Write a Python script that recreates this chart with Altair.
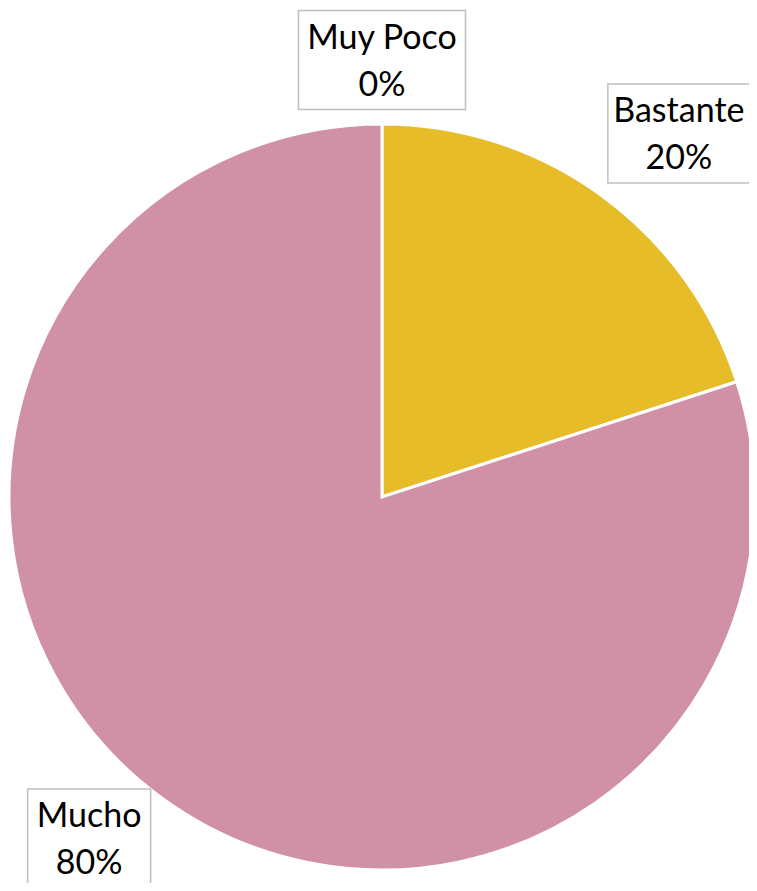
import math
import altair as alt
import pandas as pd

# data
categories = ["Muy Poco", "Bastante", "Mucho"]
values = [0, 20, 80]
colors = ["#A5A5A5", "#E6BC29", "#D091A6"]

# layout (pixels in view coords; page margin 8px)
W, H = 741, 875
CX, CY = 374, 489
R = 373
LABEL_R = 437
label_nudge = [(0, 0), (40, -10), (-36, -12)]
box_size = [(167, 99), (142, 99), (123, 99)]
LINE_H = 47

pie_df = pd.DataFrame({"cat": categories, "val": values, "order": range(len(categories))})

total = sum(values)
rows = []
cum = 0
for i, (c, v) in enumerate(zip(categories, values)):
    mid = (cum + v / 2) / total * 2 * math.pi
    cum += v
    x = CX + LABEL_R * math.sin(mid) + label_nudge[i][0]
    y = CY - LABEL_R * math.cos(mid) + label_nudge[i][1]
    w, h = box_size[i]
    rows.append({
        "cat": c,
        "label": f"{c}\n{round(v / total * 100)}%",
        "x": x, "y": y + 2 - LINE_H / 2,
        "x1": x - w / 2, "x2": x + w / 2,
        "y1": y - h / 2, "y2": y + h / 2,
    })
lab_df = pd.DataFrame(rows)

pie = alt.Chart(pie_df).mark_arc(radius=R, stroke="white", strokeWidth=3).encode(
    theta=alt.Theta("val:Q", stack=True),
    color=alt.Color("cat:N", scale=alt.Scale(domain=categories, range=colors), legend=None),
    order=alt.Order("order:Q"),
    x=alt.value(CX),
    y=alt.value(CY),
)

boxes = alt.Chart(lab_df).mark_rect(fill="white", stroke="#BFBFBF", strokeWidth=1.5).encode(
    x=alt.X("x1:Q", scale=None, axis=None),
    x2="x2:Q",
    y=alt.Y("y1:Q", scale=None, axis=None),
    y2="y2:Q",
)

texts = alt.Chart(lab_df).mark_text(
    font="Lato", fontSize=34, color="#000000", lineBreak="\n", lineHeight=LINE_H,
    align="center", baseline="middle",
).encode(
    x=alt.X("x:Q", scale=None, axis=None),
    y=alt.Y("y:Q", scale=None, axis=None),
    text="label:N",
)

chart = alt.layer(pie, boxes, texts).properties(
    width=W, height=H, padding=0, autosize=alt.AutoSizeParams(type="none")
).configure_view(stroke=None)

chart.save("out.html", embed_options={"renderer": "svg", "actions": False})
